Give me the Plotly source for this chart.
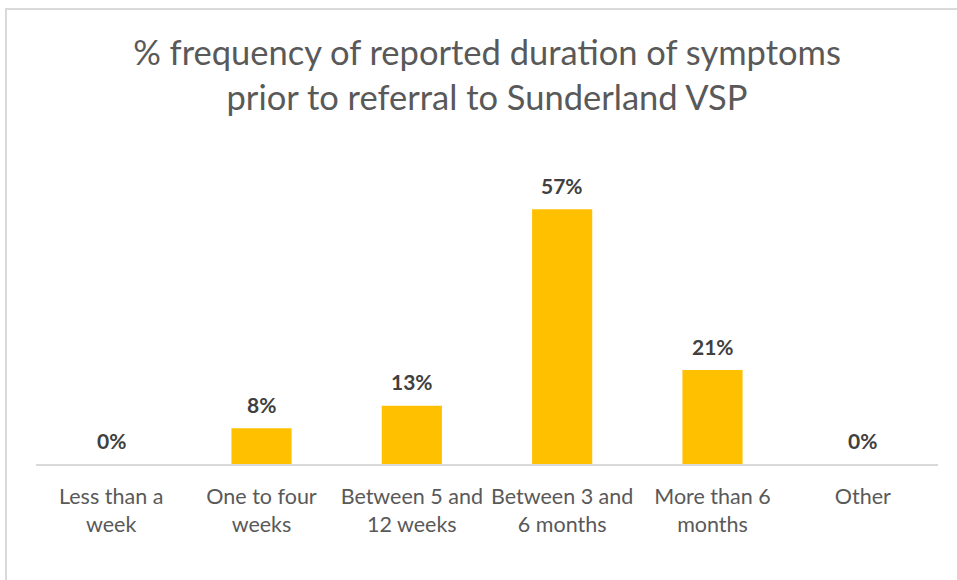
import plotly.graph_objects as go

categories = ["Less than a<br>week", "One to four<br>weeks", "Between 5 and<br>12 weeks",
              "Between 3 and<br>6 months", "More than 6<br>months", "Other"]
values = [0, 8, 13, 57, 21, 0]
labels = ["0%", "8%", "13%", "57%", "21%", "0%"]

title_text = "% frequency of reported duration of symptoms<br>prior to referral to Sunderland VSP"

FONT = "Lato, 'Open Sans', sans-serif"

fig = go.Figure()
fig.add_trace(go.Bar(x=categories, y=values, marker=dict(color="#FFC000", line=dict(width=0)),
                     hoverinfo="skip"))

for c, v, t in zip(categories, values, labels):
    fig.add_annotation(x=c, y=v, text="<b>" + t + "</b>", showarrow=False, yshift=24,
                       font=dict(family=FONT, size=21, color="#404040"))

W, H = 957, 580
L, R, T, B = 36, 19, 151, 116
pw, ph = W - L - R, H - T - B

fig.add_shape(type="rect", xref="paper", yref="paper",
              x0=(6 - L) / pw, x1=(W + 10 - L) / pw,
              y0=(H - B - (H + 10)) / ph, y1=(H - B - 9) / ph,
              line=dict(color="#D9D9D9", width=2), fillcolor="rgba(0,0,0,0)", layer="below")

fig.update_layout(
    width=W, height=H,
    margin=dict(l=L, r=R, t=T, b=B),
    paper_bgcolor="white", plot_bgcolor="white",
    bargap=0.6,
    showlegend=False,
    title=dict(text=title_text, x=0.5, xref="paper", xanchor="center",
               y=1 - 65 / H, yref="container", yanchor="top",
               font=dict(family=FONT, size=34.5, color="#595959")),
    xaxis=dict(showline=True, linecolor="#D9D9D9", linewidth=2, ticks="",
               ticklabelstandoff=12,
               tickfont=dict(family=FONT, size=21.5, color="#595959"), showgrid=False),
    yaxis=dict(range=[0, 70], visible=False, showgrid=False, zeroline=False),
)

fig.write_html("out.html", config={"displayModeBar": False, "staticPlot": True},
               post_script="document.body.style.margin='0';document.body.style.overflow='hidden';")
